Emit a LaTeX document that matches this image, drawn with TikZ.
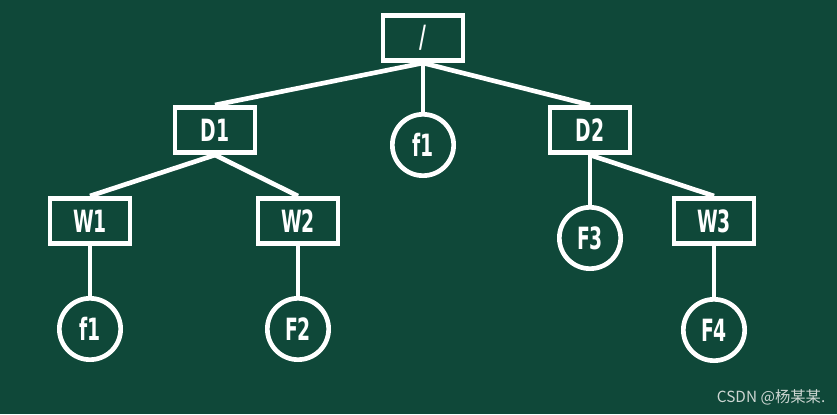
\documentclass[tikz,border=0pt]{standalone}
\usepackage{fontspec}
\newfontfamily\lblfont{DejaVu Sans Condensed Bold}[FakeStretch=0.68]
\newfontfamily\cjk{Noto Sans CJK SC}
\definecolor{bg}{RGB}{15,72,57}
\definecolor{wm}{RGB}{205,214,210}
\begin{document}
\begin{tikzpicture}[x=0.75pt,y=-0.75pt,
  every node/.style={text=white},
  lbl/.style={font=\lblfont\fontsize{23}{23}\selectfont},
  dirbox/.style={lbl,draw=white,line width=3.5pt,rectangle,minimum width=60pt,minimum height=34pt,inner sep=0pt},
  filecirc/.style={lbl,draw=white,line width=3.5pt,circle,minimum size=46pt,inner sep=0pt},
  edge/.style={draw=white,line width=3.5pt}]
\fill[bg] (0,0) rectangle (837,414);
\useasboundingbox (0,0) rectangle (837,414);
\node[dirbox] (root) at (423,38) {/};
\node[dirbox] (d1) at (215,130) {D1};
\node[filecirc] (f1a) at (423,145) {f1};
\node[dirbox] (d2) at (590,130) {D2};
\node[dirbox] (w1) at (90,221) {W1};
\node[dirbox] (w2) at (298,221) {W2};
\node[filecirc] (f3) at (590,238) {F3};
\node[dirbox] (w3) at (714,221) {W3};
\node[filecirc] (f1b) at (90,329) {f1};
\node[filecirc] (f2) at (298,329) {F2};
\node[filecirc] (f4) at (714,330) {F4};
\draw[edge] (root.south) -- (d1.north);
\draw[edge] (root.south) -- (f1a.north);
\draw[edge] (root.south) -- (d2.north);
\draw[edge] (d1.south) -- (w1.north);
\draw[edge] (d1.south) -- (w2.north);
\draw[edge] (d2.south) -- (f3.north);
\draw[edge] (d2.south) -- (w3.north);
\draw[edge] (w1.south) -- (f1b.north);
\draw[edge] (w2.south) -- (f2.north);
\draw[edge] (w3.south) -- (f4.north);
\node[text=wm,font=\cjk\fontsize{11.5}{11.5}\selectfont,anchor=east] (wmk) at (830,397) {CSDN @杨某某.};
\end{tikzpicture}
\end{document}
